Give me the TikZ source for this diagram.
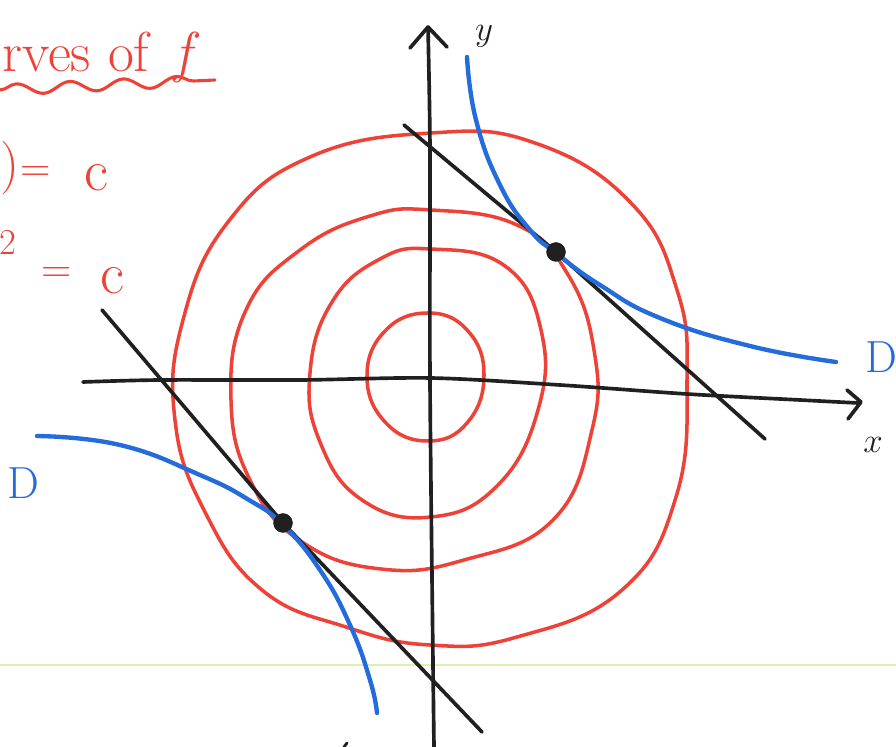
\documentclass[tikz,border=0pt]{standalone}
\usetikzlibrary{decorations.pathmorphing}
\definecolor{penred}{RGB}{238,66,56}
\definecolor{penblue}{RGB}{36,108,220}
\definecolor{penblack}{RGB}{32,32,32}
\definecolor{rulegreen}{RGB}{218,242,176}
\begin{document}
\begin{tikzpicture}[x=0.025cm,y=-0.025cm,
  levelcurve/.style={draw=penred,line width=2.5pt,line join=round},
  axisline/.style={draw=penblack,line width=2.6pt,line cap=round,line join=round},
  tangentline/.style={draw=penblack,line width=2.6pt,line cap=round,line join=round},
  constraint/.style={draw=penblue,line width=3.1pt,line cap=round,line join=round},
  tdot/.style={circle,fill=penblack,inner sep=0pt,minimum size=0.48cm},
  redtext/.style={text=penred,inner sep=0pt},
  bluetext/.style={text=penblue,inner sep=0pt,font=\fontsize{32}{36}\selectfont},
  axistext/.style={text=penblack,inner sep=0pt,font=\fontsize{36}{40}\selectfont}]
\useasboundingbox (0,0) rectangle (896,747);
\fill[white] (0,0) rectangle (896,747);
\clip (0,0) rectangle (896,747);

% faint ruled line
\draw[rulegreen,line width=1.1pt] (0,665) -- (896,665);

% level curves
\draw[levelcurve] plot[smooth cycle,tension=0.75] coordinates {
 (428,313) (468,331) (484,376) (467,423) (428,441) (386,423) (367,377) (385,331)};
\draw[levelcurve] plot[smooth cycle,tension=0.75] coordinates {
 (431,249) (505,266) (541,330) (538,410) (497,486) (431,517) (362,500) (320,442)
 (310,373) (332,302) (380,259)};
\draw[levelcurve] plot[smooth cycle,tension=0.75] coordinates {
 (431,210) (517,225) (567,273) (594,350) (592,430) (553,520) (464,560) (381,569)
 (302,542) (251,482) (231,400) (246,310) (300,250) (370,216)};
\draw[levelcurve] plot[smooth cycle,tension=0.75] coordinates {
 (431,133) (535,143) (631,203) (677,290) (687,380) (676,497) (622,590) (517,637)
 (430,645) (346,627) (262,590) (205,512) (175,420) (183,320) (228,222) (310,157)};

% axes
\draw[axisline] plot[smooth,tension=0.5] coordinates {
 (83,382) (160,380) (300,380) (431,378) (560,385) (687,394) (800,400) (858,403)};
\draw[axisline] (847,390) -- (861,402) -- (848,419);
\draw[axisline] plot[smooth,tension=0.5] coordinates {
 (428,28) (430,150) (430,380) (433,663) (434,747)};
\draw[axisline] (410,48) -- (428,27) -- (447,47);
\node[axistext] (xlab) at (873,445) {$x$};
\node[axistext] (ylab) at (484,36) {$y$};

% tangency points
\node[tdot] (p1) at (556,252) {};
\node[tdot] (p2) at (283,523) {};

% tangent lines
\coordinate (t1a) at (404,125);
\coordinate (t1b) at (765,439);
\coordinate (t2a) at (102,310);
\coordinate (t2b) at (482,732);
\draw[tangentline] (t1a) -- (p1.center) -- (t1b);
\draw[tangentline] (t2a) -- (p2.center) -- (t2b);

% constraint curves D
\draw[constraint] plot[smooth,tension=0.8] coordinates {
 (467,57) (476,120) (500,185) (530,230) (556,253) (600,285) (660,318) (750,346) (836,362)};
\draw[constraint] plot[smooth,tension=0.8] coordinates {
 (37,436) (120,445) (200,475) (249,500) (283,525) (320,570) (350,625) (370,680) (377,713)};
\node[bluetext] (dright) at (881,357) {D};
\node[bluetext] (dleft) at (23,483) {D};

% redraw the dots on top
\fill[penblack] (p1) circle[radius=0.24cm];
\fill[penblack] (p2) circle[radius=0.24cm];

% small stray mark at the bottom
\draw[penblack,line width=2pt,line cap=round] (344,747) -- (347,743);

% heading and equations (as cut at the left edge of the sheet)
\node[redtext,anchor=base west,font=\fontsize{40}{46}\selectfont] (title) at (2,72) {rves of\hspace{0.45em}\itshape f};
\draw[penred,line width=2.2pt,line cap=round,decorate,
  decoration={snake,amplitude=3.8pt,segment length=38pt}] (0,90) -- (215,80);
\node[redtext,font=\fontsize{38}{44}\selectfont] (eqaa) at (10,168) {)};
\node[redtext,font=\fontsize{30}{34}\selectfont] (eqab) at (36,174) {=};
\node[redtext,font=\fontsize{42}{46}\selectfont] (eqac) at (96,178) {c};
\node[redtext,font=\fontsize{26}{30}\selectfont] (eqba) at (8,242) {2};
\node[redtext,font=\fontsize{30}{34}\selectfont] (eqbb) at (57,275) {=};
\node[redtext,font=\fontsize{42}{46}\selectfont] (eqbc) at (112,281) {c};
\end{tikzpicture}
\end{document}
